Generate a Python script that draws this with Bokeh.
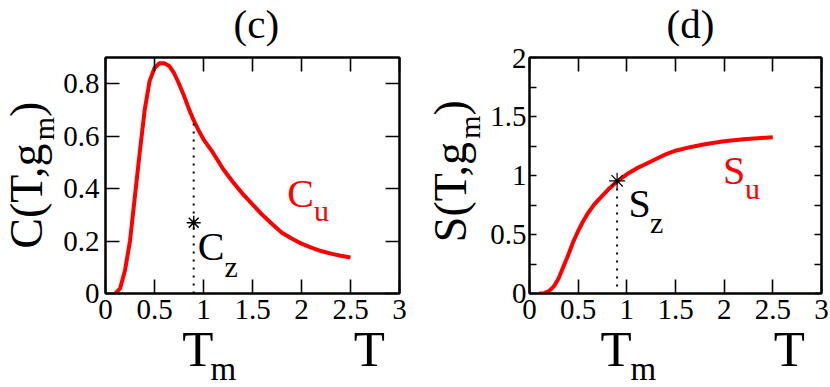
from math import pi
from bokeh.plotting import figure
from bokeh.models import Range1d, LinearAxis, FixedTicker, Label
from bokeh.layouts import row, column
from bokeh.embed import file_html
from bokeh.resources import INLINE

# ---- data ----
T_c = [0.10, 0.15, 0.20, 0.25, 0.30, 0.35, 0.40, 0.45, 0.50, 0.55, 0.60, 0.65,
       0.70, 0.75, 0.80, 0.85, 0.90, 0.95, 1.00, 1.10, 1.20, 1.30, 1.40, 1.50,
       1.60, 1.70, 1.80, 1.90, 2.00, 2.10, 2.20, 2.30, 2.40, 2.50]
C_u = [0.00, 0.02, 0.09, 0.20, 0.37, 0.54, 0.70, 0.81, 0.86, 0.878, 0.878, 0.868,
       0.84, 0.80, 0.755, 0.705, 0.66, 0.622, 0.588, 0.535, 0.475, 0.425, 0.38, 0.34,
       0.30, 0.265, 0.232, 0.21, 0.19, 0.175, 0.162, 0.152, 0.144, 0.137]

T_s = [0.10, 0.15, 0.20, 0.25, 0.30, 0.35, 0.40, 0.45, 0.50, 0.55, 0.60, 0.67,
       0.75, 0.82, 0.90, 1.00, 1.10, 1.20, 1.30, 1.40, 1.50, 1.65, 1.80, 2.00,
       2.20, 2.50]
S_u = [0.00, 0.003, 0.02, 0.06, 0.13, 0.23, 0.33, 0.44, 0.53, 0.61, 0.68, 0.76,
       0.83, 0.89, 0.95, 1.01, 1.06, 1.10, 1.14, 1.18, 1.21, 1.24, 1.265, 1.29,
       1.307, 1.325]

T_m = [0.9]
C_z = [0.27]
C_dotted = [0.0, 0.65]
S_z = [0.955]
S_dotted = [0.06, 0.955]

x_ticks = [0, 0.5, 1, 1.5, 2, 2.5, 3]
x_tick_labels = ["0", "0.5", "1", "1.5", "2", "2.5", "3"]
c_ticks = [0, 0.2, 0.4, 0.6, 0.8]
c_tick_labels = ["0", "0.2", "0.4", "0.6", "0.8"]
s_ticks = [0, 0.5, 1, 1.5, 2]
s_tick_labels = ["0", "0.5", "1", "1.5", "2"]
s_minor = [0.25, 0.75, 1.25, 1.75]

FONT = "Liberation Serif"
MID = 0.3375          # distance baseline -> middle of the font box, in em

# ---- layout geometry (pixels) ----
PANEL_W = 415
TITLE_H = 48          # strip holding "(c)" / "(d)"
TOP_B, FRAME_H, BOT_B = 9, 236, 39
MAIN_H = TOP_B + FRAME_H + BOT_B
XLAB_H = 387 - TITLE_H - MAIN_H
FR_TOP, FR_BOT = TITLE_H + TOP_B, TITLE_H + TOP_B + FRAME_H


def style_axis(ax, ticks, labels, tick_len, minor=None, standoff=6, show=True):
    ax.ticker = FixedTicker(ticks=ticks, minor_ticks=minor or [])
    ax.axis_line_color = "black"
    ax.axis_line_width = 2
    ax.major_tick_in = tick_len
    ax.major_tick_out = 0
    ax.minor_tick_in = tick_len
    ax.minor_tick_out = 0
    ax.major_tick_line_color = "black"
    ax.major_tick_line_width = 1.6
    ax.minor_tick_line_color = "black"
    ax.minor_tick_line_width = 1.6
    ax.axis_label = None
    if show:
        ax.major_label_overrides = {t: l for t, l in zip(ticks, labels)}
        ax.major_label_text_font = FONT
        ax.major_label_text_font_size = "29px"
        ax.major_label_text_color = "black"
        ax.major_label_standoff = standoff
    else:
        ax.major_label_overrides = {t: "" for t in ticks}
        ax.major_label_text_font_size = "0px"
        ax.major_label_standoff = 0


def make_main(ymax, width, bl, br, yticks, ylabels, ytick_len, yminor, ystandoff):
    p = figure(width=width, height=MAIN_H, min_border_left=bl, min_border_right=br,
               min_border_top=TOP_B, min_border_bottom=BOT_B,
               x_range=Range1d(0, 3), y_range=Range1d(0, ymax),
               output_backend="svg", toolbar_location=None,
               x_axis_location=None, y_axis_location=None)
    p.frame_align = False
    p.title.visible = False
    p.xgrid.visible = False
    p.ygrid.visible = False
    p.outline_line_color = "black"
    p.outline_line_width = 2
    p.background_fill_color = "white"
    p.border_fill_color = "white"
    ax = LinearAxis()
    style_axis(ax, x_ticks, x_tick_labels, 14, standoff=6, show=True)
    p.add_layout(ax, "below")
    ax = LinearAxis()
    style_axis(ax, x_ticks, x_tick_labels, 14, show=False)
    p.add_layout(ax, "above")
    ax = LinearAxis()
    style_axis(ax, yticks, ylabels, ytick_len, minor=yminor, standoff=ystandoff, show=True)
    p.add_layout(ax, "left")
    ax = LinearAxis()
    style_axis(ax, yticks, ylabels, ytick_len, minor=yminor, show=False)
    p.add_layout(ax, "right")
    return p


def text_fig(w, h):
    """Plain canvas (pixel coordinates, origin bottom-left) that only carries text."""
    f = figure(width=w, height=h, x_range=Range1d(0, w), y_range=Range1d(0, h),
               min_border=0, min_border_left=0, min_border_right=0,
               min_border_top=0, min_border_bottom=0,
               output_backend="svg", toolbar_location=None,
               x_axis_location=None, y_axis_location=None)
    f.frame_align = False
    f.title.visible = False
    f.xgrid.visible = False
    f.ygrid.visible = False
    f.outline_line_color = None
    f.background_fill_color = "white"
    f.border_fill_color = "white"
    return f


def put(f, px, py, text, size, angle=0.0, align="left", color="black"):
    """px, py: baseline position in pixels from the text canvas' top-left corner."""
    if angle:
        px = px - MID * size      # rotated text: its 'up' points left
    else:
        py = py - MID * size
    f.add_layout(Label(x=px, y=f.height - py, text=text, text_font=FONT,
                       text_font_size=f"{size}px", text_color=color,
                       angle=angle, text_align=align, text_baseline="middle"))


def lab(p, frame, px, py, text, size, color="black"):
    """Label inside a plot frame, baseline given in page pixels."""
    left, right, ymax = frame
    py = py - MID * size
    x = (px - left) / (right - left) * 3
    y = (FR_BOT - py) / (FR_BOT - FR_TOP) * ymax
    p.add_layout(Label(x=x, y=y, text=text, text_font=FONT,
                       text_font_size=f"{size}px", text_color=color,
                       text_align="left", text_baseline="middle"))


y0 = TITLE_H + MAIN_H   # page y of the x-label strip

# ================= panel (c) =================
YL1 = 60
FRAME_C = (103, 399, 0.9)
main_c = make_main(0.9, PANEL_W - YL1, 103 - YL1, 16, c_ticks, c_tick_labels, 14, [], 6)
main_c.line(T_c, C_u, line_color="red", line_width=4)
main_c.line(T_m * 2, C_dotted, line_color="black", line_width=2, line_dash="2 6")
main_c.scatter(T_m, C_z, marker="asterisk", size=14, line_color="black", line_width=1.5)
lab(main_c, FRAME_C, 196, 259.3, "C", 40)
lab(main_c, FRAME_C, 222.7, 276, "z", 30)
lab(main_c, FRAME_C, 286, 206, "C", 40, color="red")
lab(main_c, FRAME_C, 313, 220, "u", 30, color="red")

title_c = text_fig(PANEL_W, TITLE_H)
put(title_c, 255.8, 37, "(c)", 41, align="center")

ylab_c = text_fig(YL1, MAIN_H)
put(ylab_c, 42, 248.3 - TITLE_H, "C(T,g", 46, angle=pi / 2)
put(ylab_c, 53.5, 139.7 - TITLE_H, "m", 30, angle=pi / 2)
put(ylab_c, 42, 116.4 - TITLE_H, ")", 46, angle=pi / 2)

xlab_c = text_fig(PANEL_W, XLAB_H)
put(xlab_c, 181.7, 366 - y0, "T", 51)
put(xlab_c, 210, 379.5 - y0, "m", 33)
put(xlab_c, 353.3, 366 - y0, "T", 51)

panel_c = column(title_c, row(ylab_c, main_c), xlab_c)

# ================= panel (d) =================
YL2 = 72
FRAME_D = (527, 821, 2.0)
main_d = make_main(2.0, PANEL_W - YL2, 112 - YL2, 9, s_ticks, s_tick_labels, 7, s_minor, 3)
main_d.line(T_s, S_u, line_color="red", line_width=4)
main_d.line(T_m * 2, S_dotted, line_color="black", line_width=2, line_dash="2 6")
main_d.scatter(T_m, S_z, marker="asterisk", size=16, line_color="black", line_width=1.2)
lab(main_d, FRAME_D, 626.7, 216.7, "S", 40)
lab(main_d, FRAME_D, 648.3, 231.7, "z", 30)
lab(main_d, FRAME_D, 721.7, 183.3, "S", 40, color="red")
lab(main_d, FRAME_D, 744, 198.3, "u", 30, color="red")

title_d = text_fig(PANEL_W, TITLE_H)
put(title_d, 690 - 415, 37, "(d)", 41, align="center")

ylab_d = text_fig(YL2, MAIN_H)
put(ylab_d, 466 - 415, 241.7 - TITLE_H, "S(T,g", 46, angle=pi / 2)
put(ylab_d, 479 - 415, 138.2 - TITLE_H, "m", 30, angle=pi / 2)
put(ylab_d, 466 - 415, 114.9 - TITLE_H, ")", 46, angle=pi / 2)

xlab_d = text_fig(PANEL_W, XLAB_H)
put(xlab_d, 600 - 415, 366 - y0, "T", 51)
put(xlab_d, 630 - 415, 379.5 - y0, "m", 33)
put(xlab_d, 773.3 - 415, 366 - y0, "T", 51)

panel_d = column(title_d, row(ylab_d, main_d), xlab_d)

layout = row(panel_c, panel_d)
open("out.html", "w").write(file_html(layout, INLINE))
